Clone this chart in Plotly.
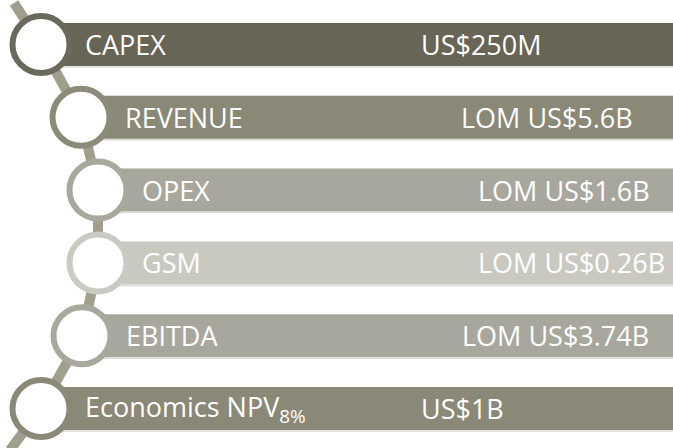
import plotly.graph_objects as go

# ---- data ----
labels = ["CAPEX", "REVENUE", "OPEX", "GSM", "EBITDA", "Economics NPV<sub>8%</sub>"]
values = ["US$250M", "LOM US$5.6B", "LOM US$1.6B", "LOM US$0.26B", "LOM US$3.74B", "US$1B"]

# ---- styles / layout ----
bar_colors = ["#666556", "#8a8876", "#a8a79e", "#c9c9c2", "#a8a79e", "#8a8876"]
ring_colors = ["#6a695b", "#8c8b7a", "#a9a89f", "#cacac3", "#a9a89f", "#8a8978"]
connector_color = "#a09f8e"
indent = [0, 40, 57, 57, 41, 0]
W, H = 673, 448
row0, pitch, bar_h = 44.5, 72.8, 43
cx0, r_out, ring_w = 41, 31.5, 6
FONT = "Open Sans"
FS = 27

fig = go.Figure()

centers = [(cx0 + indent[i], row0 + pitch * i) for i in range(len(labels))]

# connector line
xs = [14] + [c[0] for c in centers] + [10]
ys = [3] + [c[1] for c in centers] + [450]
fig.add_trace(go.Scatter(x=xs, y=ys, mode="lines",
                         line=dict(color=connector_color, width=10),
                         hoverinfo="skip", showlegend=False))

shapes = []
annotations = []
for i, (lab, val) in enumerate(zip(labels, values)):
    cx, cy = centers[i]
    y0, y1 = cy - bar_h / 2, cy + bar_h / 2
    shapes.append(dict(type="rect", x0=cx + 20, x1=W + 5, y0=y0, y1=y1,
                       fillcolor=bar_colors[i], line=dict(width=0), layer="above"))
    shapes.append(dict(type="line", x0=cx + 20, x1=W + 5, y0=y1 + 1, y1=y1 + 1,
                       line=dict(color="#dcdcd6", width=1.5), layer="above"))
    r = r_out - ring_w / 2
    shapes.append(dict(type="circle", x0=cx - r, x1=cx + r, y0=cy - r, y1=cy + r,
                       fillcolor="white", line=dict(color=ring_colors[i], width=ring_w),
                       layer="above"))
    annotations.append(dict(x=cx + 42, y=cy, text=lab, xanchor="left", yanchor="middle",
                            showarrow=False, font=dict(family=FONT, size=FS, color="white")))
    annotations.append(dict(x=cx + 378, y=cy, text=val, xanchor="left", yanchor="middle",
                            showarrow=False, font=dict(family=FONT, size=FS, color="white")))

fig.update_layout(
    width=W, height=H,
    margin=dict(l=0, r=0, t=0, b=0),
    paper_bgcolor="white", plot_bgcolor="white",
    xaxis=dict(range=[0, W], visible=False, fixedrange=True),
    yaxis=dict(range=[H, 0], visible=False, fixedrange=True),
    shapes=shapes, annotations=annotations, showlegend=False,
)

fig.write_html("out.html", config={"displayModeBar": False, "staticPlot": True})

# remove default page margin so the figure fills the window
with open("out.html", "r", encoding="utf-8") as f:
    html = f.read()
html = html.replace("<head>", "<head><style>html,body{margin:0;padding:0;overflow:hidden;}</style>", 1)
with open("out.html", "w", encoding="utf-8") as f:
    f.write(html)
